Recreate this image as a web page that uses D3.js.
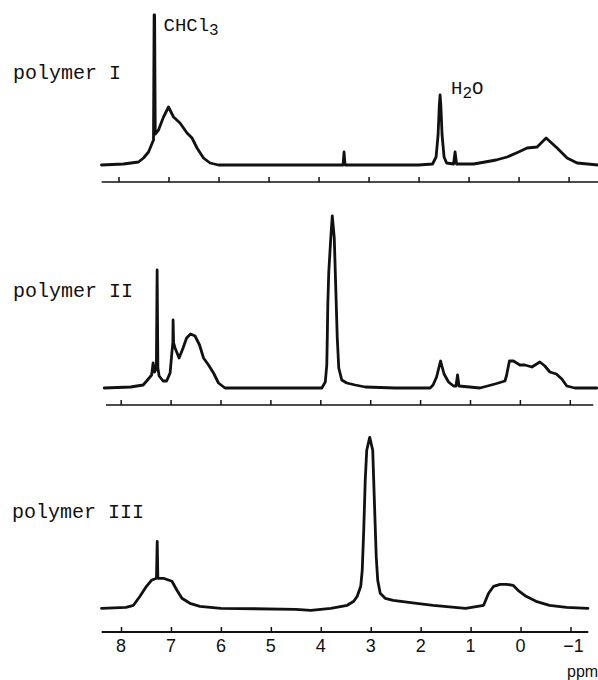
<!DOCTYPE html>
<html>
<head>
<meta charset="utf-8">
<script src="https://cdn.jsdelivr.net/npm/d3@7"></script>
<style>
  html, body { margin: 0; padding: 0; background: #fff; }
  svg { display: block; }
</style>
</head>
<body>
<svg id="chart" width="598" height="680"></svg>
<script>
// ---------- data ----------
const sampleNames = ["polymer I", "polymer II", "polymer III"];
const tickValues = [8, 7, 6, 5, 4, 3, 2, 1, 0, -1];
const tickLabels = ["8", "7", "6", "5", "4", "3", "2", "1", "0", "\u22121"];
const axisUnit = "ppm";

// [chemical shift (ppm), intensity (a.u.)]
const spectrumI = [
  [8.34, 0], [7.9, 1], [7.6, 3], [7.5, 7], [7.4, 13], [7.3, 25], [7.288, 150], [7.278, 150], [7.265, 31],
  [7.2, 35], [7.1, 48], [7.0, 58], [6.9, 48], [6.77, 42], [6.63, 32], [6.53, 27], [6.43, 17], [6.3, 7],
  [6.17, 2], [6.0, 0], [5.0, 0], [4.0, 0], [3.51, 0], [3.49, 13], [3.47, 0], [2.0, 0], [1.72, 1],
  [1.65, 8], [1.61, 30], [1.585, 60], [1.57, 70], [1.555, 60], [1.53, 30], [1.49, 8], [1.44, 2],
  [1.3, 1], [1.27, 13], [1.24, 1], [0.9, 1], [0.67, 3], [0.45, 5], [0.23, 8], [0.0, 13], [-0.17, 17],
  [-0.37, 18], [-0.55, 27], [-0.77, 17], [-0.97, 7], [-1.17, 2], [-1.59, 0]
];
const spectrumII = [
  [8.33, 0], [7.8, 1], [7.55, 3], [7.48, 7], [7.38, 13], [7.35, 25], [7.32, 16], [7.285, 20], [7.27, 118],
  [7.255, 20], [7.23, 12], [7.15, 7], [7.08, 7], [7.01, 15], [6.975, 35], [6.955, 45], [6.95, 68],
  [6.94, 45], [6.91, 40], [6.83, 30], [6.75, 40], [6.68, 50], [6.6, 54], [6.51, 52], [6.42, 43],
  [6.34, 30], [6.24, 23], [6.14, 15], [6.04, 5], [5.91, 0], [4.5, 0], [3.97, 0], [3.9, 6], [3.87, 23],
  [3.86, 50], [3.85, 83], [3.83, 116], [3.79, 150], [3.76, 172], [3.72, 150], [3.69, 100], [3.66, 50],
  [3.63, 20], [3.57, 8], [3.47, 5], [3.3, 3], [3.1, 1], [2.5, 0], [1.8, 0], [1.74, 3], [1.67, 11],
  [1.59, 27], [1.52, 14], [1.43, 6], [1.33, 2], [1.28, 2], [1.25, 13], [1.22, 2], [0.8, 0], [0.5, 4],
  [0.3, 7], [0.27, 12], [0.25, 17], [0.21, 27], [0.13, 27], [0.0, 23], [-0.1, 23], [-0.24, 21],
  [-0.4, 26], [-0.5, 22], [-0.6, 16], [-0.73, 14], [-0.84, 9], [-0.94, 2], [-1.1, 0], [-1.54, 0]
];
const spectrumIII = [
  [8.39, 0], [7.9, 1], [7.75, 3], [7.62, 12], [7.49, 22], [7.39, 28], [7.29, 30], [7.275, 67], [7.262, 30],
  [7.15, 30], [6.98, 27], [6.88, 18], [6.78, 10], [6.62, 5], [6.42, 2], [6.0, 0], [4.5, -1], [4.2, -2],
  [3.8, 0], [3.47, 3], [3.34, 7], [3.27, 12], [3.2, 22], [3.17, 38], [3.14, 78], [3.11, 128], [3.08, 158],
  [3.02, 171], [2.96, 158], [2.93, 112], [2.89, 52], [2.86, 28], [2.81, 15], [2.71, 10], [2.55, 8],
  [2.08, 5], [1.75, 3], [1.1, 0], [0.74, 3], [0.64, 15], [0.54, 22], [0.41, 24], [0.28, 24], [0.15, 23],
  [0.05, 18], [-0.11, 12], [-0.31, 7], [-0.58, 3], [-0.92, 1], [-1.35, 0]
];
const spectra = [spectrumI, spectrumII, spectrumIII];

// peak annotations
const annotations = [
  { panel: 0, ppm: 7.1, base: "CHCl", sub: "3", tail: "" },
  { panel: 0, ppm: 1.35, base: "H", sub: "2", tail: "O" }
];

// ---------- layout ----------
const layout = [
  { x8: 118.5, xm1: 568.6, axisStart: 101.7, axisEnd: 598, base: 165, axisY: 182, labelX: 13, labelY: 79 },
  { x8: 120.7, xm1: 569.8, axisStart: 106, axisEnd: 593.3, base: 388, axisY: 405, labelX: 13, labelY: 297 },
  { x8: 121, xm1: 570.5, axisStart: 101.7, axisEnd: 588.3, base: 608.3, axisY: 632, labelX: 12, labelY: 518 }
];
const annoY = [30.5, 94];

const svg = d3.select("#chart");
const ink = "#111";
const mono = "'Liberation Mono', 'Courier New', monospace";
const sans = "'Liberation Sans', Arial, sans-serif";

layout.forEach((L, i) => {
  const x = d3.scaleLinear().domain([8, -1]).range([L.x8, L.xm1]);
  const y = d3.scaleLinear().domain([0, 171]).range([L.base, L.base - 171]);
  const g = svg.append("g");

  // axis line
  g.append("line")
    .attr("x1", L.axisStart).attr("x2", L.axisEnd)
    .attr("y1", L.axisY).attr("y2", L.axisY)
    .attr("stroke", ink).attr("stroke-width", i === 2 ? 2 : 1.6);

  // ticks (pointing up)
  const axis = d3.axisTop(x).tickValues(tickValues).tickSize(5).tickSizeOuter(0).tickFormat("");
  const ag = g.append("g").attr("transform", `translate(0,${L.axisY})`).call(axis);
  ag.select(".domain").remove();
  ag.selectAll(".tick line").attr("stroke", ink).attr("stroke-width", 1.5);
  ag.selectAll(".tick text").remove();

  // tick labels only on bottom panel
  if (i === 2) {
    g.selectAll("text.tl").data(tickValues).join("text")
      .attr("class", "tl")
      .attr("x", d => x(d) + (d < 0 ? 3 : 0))
      .attr("y", 652)
      .attr("text-anchor", "middle")
      .attr("font-family", sans)
      .attr("font-size", 18)
      .attr("fill", ink)
      .text((d, k) => tickLabels[k]);
    g.append("text")
      .attr("x", 567).attr("y", 677)
      .attr("font-family", sans)
      .attr("font-size", 16)
      .attr("fill", ink)
      .text(axisUnit);
  }

  // spectrum trace
  const line = d3.line().x(d => x(d[0])).y(d => y(d[1]));
  g.append("path")
    .datum(spectra[i])
    .attr("d", line)
    .attr("fill", "none")
    .attr("stroke", ink)
    .attr("stroke-width", 2.8)
    .attr("stroke-linejoin", "round")
    .attr("stroke-linecap", "round");

  // sample label
  g.append("text")
    .attr("x", L.labelX).attr("y", L.labelY)
    .attr("font-family", mono)
    .attr("font-size", 20)
    .attr("fill", ink)
    .text(sampleNames[i]);

  // annotations
  annotations.forEach((a, k) => {
    if (a.panel !== i) return;
    const t = g.append("text")
      .attr("x", x(a.ppm))
      .attr("y", annoY[k])
      .attr("font-family", mono)
      .attr("font-size", 19)
      .attr("fill", ink);
    t.append("tspan").text(a.base);
    t.append("tspan").attr("dy", 4).attr("font-size", 16).text(a.sub);
    if (a.tail) t.append("tspan").attr("dy", -4).attr("font-size", 19).text(a.tail);
  });
});
</script>
</body>
</html>
